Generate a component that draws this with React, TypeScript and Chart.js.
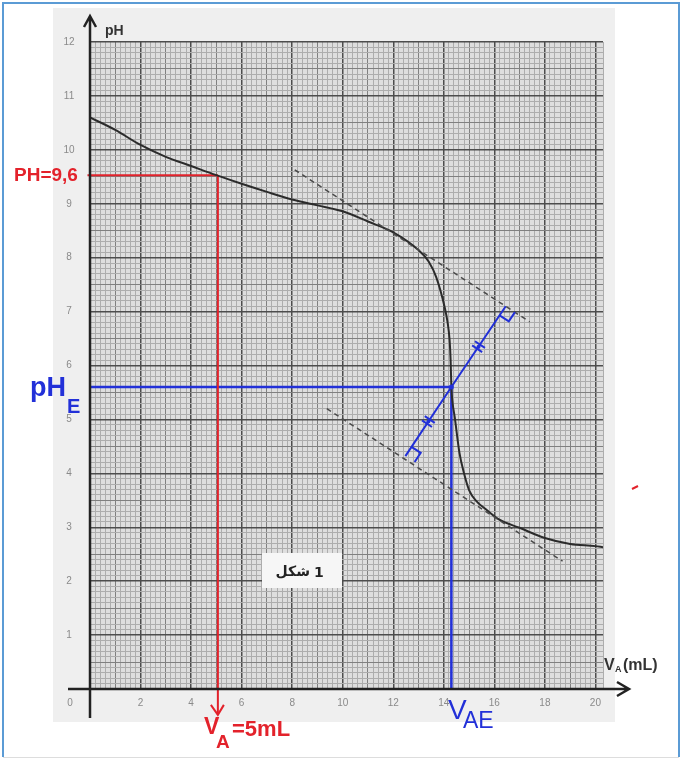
import { useEffect, useRef } from "react";
import { Chart, registerables } from "chart.js";

Chart.register(...registerables);

// Titration curve
const VOLUME_ML = [0, 1, 2, 3, 4, 5, 6, 7, 8, 9, 10, 11, 12, 13, 13.4, 13.7, 14.03, 14.15, 14.23, 14.27, 14.3, 14.35, 14.43, 14.62, 14.8, 15.0, 15.3, 15.7, 16.2, 17, 18, 19, 20, 20.3];
const PH_VALUES = [10.6, 10.37, 10.09, 9.87, 9.7, 9.53, 9.37, 9.22, 9.08, 8.97, 8.86, 8.67, 8.47, 8.14, 7.93, 7.64, 7.09, 6.8, 6.47, 6.1, 5.6, 5.3, 5.05, 4.38, 4.0, 3.69, 3.48, 3.32, 3.14, 2.99, 2.8, 2.69, 2.65, 2.63];

// Tangent lines (dashed)
const UPPER_TANGENT_X = [8.1, 17.4];
const UPPER_TANGENT_Y = [9.63, 6.81];
const LOWER_TANGENT_X = [9.37, 18.7];
const LOWER_TANGENT_Y = [5.2, 2.37];

// Perpendicular segment (blue)
const PERP_X = [12.48, 14.3, 16.45];
const PERP_Y = [4.32, 5.6, 7.1];

// Reading lines
const V_A = 5.06;
const PH_A = 9.53;
const RED_BOTTOM = -0.48;
const V_AE = 14.3;
const PH_E = 5.6;

const X_TICK_LABELS = [2, 4, 6, 8, 10, 12, 14, 16, 18, 20];
const Y_TICK_LABELS = [1, 2, 3, 4, 5, 6, 7, 8, 9, 10, 11, 12];

const RED = "#e3222b";
const BLUE = "#2230d8";
const MAJOR = "#4d4d4d";
const MID = "#808080";
const MINOR = "#adadad";

export default function App() {
  const ref = useRef<HTMLCanvasElement>(null);

  useEffect(() => {
    document.body.style.margin = "0";
    const canvas = ref.current!;
    const pts = (xs: number[], ys: number[]) => xs.map((x, i) => ({ x, y: ys[i] }));

    const paper = {
      id: "paper",
      beforeDraw(chart: any) {
        const { ctx, chartArea: a } = chart;
        ctx.save();
        ctx.fillStyle = "#ffffff";
        ctx.fillRect(0, 0, chart.width, chart.height);
        ctx.fillStyle = "#efefef";
        ctx.fillRect(53, 8, 562, 714);
        ctx.fillStyle = "#dedede";
        ctx.fillRect(a.left, a.top, a.right - a.left, a.bottom - a.top);
        ctx.restore();
      },
      afterDraw(chart: any) {
        const { ctx } = chart;
        const xs = chart.scales.x;
        const ys = chart.scales.y;
        const px = (x: number, y: number) => [xs.getPixelForValue(x), ys.getPixelForValue(y)];
        const x0 = xs.getPixelForValue(0);
        const y0 = ys.getPixelForValue(0);
        ctx.save();

        // tick labels
        ctx.fillStyle = "#8a8a8a";
        ctx.font = '10px "Liberation Sans"';
        ctx.textAlign = "center";
        ctx.textBaseline = "middle";
        X_TICK_LABELS.forEach((v) => ctx.fillText(String(v), xs.getPixelForValue(v), y0 + 14));
        ctx.fillText("0", x0 - 20, y0 + 14);
        Y_TICK_LABELS.forEach((v) => ctx.fillText(String(v), x0 - 21, ys.getPixelForValue(v)));

        // axes with arrows
        ctx.strokeStyle = "#222";
        ctx.lineWidth = 2.5;
        ctx.beginPath();
        ctx.moveTo(68, y0);
        ctx.lineTo(628, y0);
        ctx.moveTo(617, y0 - 7);
        ctx.lineTo(629, y0);
        ctx.lineTo(617, y0 + 7);
        ctx.moveTo(x0, 718);
        ctx.lineTo(x0, 16);
        ctx.moveTo(x0 - 6, 27);
        ctx.lineTo(x0, 16);
        ctx.lineTo(x0 + 6, 27);
        ctx.stroke();

        // axis titles
        ctx.fillStyle = "#333";
        ctx.textAlign = "left";
        ctx.textBaseline = "alphabetic";
        ctx.font = 'bold 14px "Liberation Sans"';
        ctx.fillText("pH", 105, 35);
        ctx.font = 'bold 16px "Liberation Sans"';
        ctx.fillText("V", 604, 670);
        ctx.font = 'bold 9px "Liberation Sans"';
        ctx.fillText("A", 615, 672);
        ctx.font = 'bold 16px "Liberation Sans"';
        ctx.fillText("(mL)", 623, 670);

        // red arrow head
        const rb = px(V_A, RED_BOTTOM);
        ctx.strokeStyle = RED;
        ctx.lineWidth = 2;
        ctx.beginPath();
        ctx.moveTo(rb[0] - 7, rb[1] - 10);
        ctx.lineTo(rb[0], rb[1]);
        ctx.lineTo(rb[0] + 6, rb[1] - 10);
        ctx.stroke();

        // right angle marks and equal marks on blue perpendicular
        const unit = (a: number[], b: number[]) => {
          const dx = b[0] - a[0], dy = b[1] - a[1];
          const l = Math.hypot(dx, dy);
          return [dx / l, dy / l];
        };
        const P0 = px(PERP_X[0], PERP_Y[0]);
        const C = px(PERP_X[1], PERP_Y[1]);
        const P1 = px(PERP_X[2], PERP_Y[2]);
        const tU = unit(px(UPPER_TANGENT_X[0], UPPER_TANGENT_Y[0]), px(UPPER_TANGENT_X[1], UPPER_TANGENT_Y[1]));
        const tL = unit(px(LOWER_TANGENT_X[0], LOWER_TANGENT_Y[0]), px(LOWER_TANGENT_X[1], LOWER_TANGENT_Y[1]));
        ctx.strokeStyle = BLUE;
        ctx.lineWidth = 2;
        const square = (P: number[], t: number[], v: number[], s: number) => {
          ctx.beginPath();
          ctx.moveTo(P[0] + t[0] * s, P[1] + t[1] * s);
          ctx.lineTo(P[0] + t[0] * s + v[0] * s, P[1] + t[1] * s + v[1] * s);
          ctx.lineTo(P[0] + v[0] * s, P[1] + v[1] * s);
          ctx.stroke();
        };
        square(P1, tU, unit(P1, C), 11);
        square(P0, tL, unit(P0, C), 11);
        const d = unit(P0, P1);
        const n = [-d[1], d[0]];
        [[P0, C], [C, P1]].forEach(([A, B]) => {
          const M = [(A[0] + B[0]) / 2, (A[1] + B[1]) / 2];
          [-2.5, 2.5].forEach((o) => {
            const c = [M[0] + d[0] * o, M[1] + d[1] * o];
            ctx.beginPath();
            ctx.moveTo(c[0] - n[0] * 6, c[1] - n[1] * 6);
            ctx.lineTo(c[0] + n[0] * 6, c[1] + n[1] * 6);
            ctx.stroke();
          });
          ctx.fillStyle = BLUE;
          ctx.beginPath();
          ctx.arc(M[0], M[1], 2, 0, Math.PI * 2);
          ctx.fill();
        });
        ctx.beginPath();
        ctx.arc(C[0], C[1], 2.5, 0, Math.PI * 2);
        ctx.fill();

        // red annotations
        ctx.fillStyle = RED;
        ctx.textBaseline = "middle";
        ctx.font = 'bold 19px "Liberation Sans"';
        ctx.fillText("PH=9,6", 14, ys.getPixelForValue(PH_A) + 1);
        ctx.textBaseline = "alphabetic";
        ctx.font = 'bold 23px "Liberation Sans"';
        ctx.fillText("V", 204, 734);
        ctx.font = 'bold 19px "Liberation Sans"';
        ctx.fillText("A", 216, 748);
        ctx.font = 'bold 22px "Liberation Sans"';
        ctx.fillText("=5mL", 232, 736);

        // blue annotations
        ctx.fillStyle = BLUE;
        ctx.font = 'bold 27px "Liberation Sans"';
        ctx.fillText("pH", 30, 396);
        ctx.font = 'bold 20px "Liberation Sans"';
        ctx.fillText("E", 67, 413);
        ctx.font = '28px "Liberation Sans"';
        ctx.fillText("V", 448, 719);
        ctx.font = '23px "Liberation Sans"';
        ctx.fillText("AE", 463, 728);

        // figure label box
        ctx.fillStyle = "#f6f6f6";
        ctx.fillRect(262, 553, 80, 35);
        ctx.fillStyle = "#222";
        ctx.textBaseline = "middle";
        ctx.font = 'bold 14px "DejaVu Sans"';
        ctx.textAlign = "right";
        ctx.fillText("شكل", 310, 572);
        ctx.textAlign = "left";
        ctx.fillText("1", 314, 573);

        // stray red mark
        ctx.strokeStyle = RED;
        ctx.lineWidth = 2;
        ctx.beginPath();
        ctx.moveTo(632, 489);
        ctx.lineTo(638, 486);
        ctx.stroke();

        // frame
        ctx.strokeStyle = "#5b9bd5";
        ctx.lineWidth = 2;
        ctx.beginPath();
        ctx.moveTo(3, 757);
        ctx.lineTo(3, 3);
        ctx.lineTo(679, 3);
        ctx.lineTo(679, 757);
        ctx.stroke();
        ctx.strokeStyle = "#dddddd";
        ctx.lineWidth = 1;
        ctx.beginPath();
        ctx.moveTo(3, 757.5);
        ctx.lineTo(679, 757.5);
        ctx.stroke();
        ctx.restore();
      },
    };

    const line = (data: any[], color: string, width: number, extra: any = {}) => ({
      data,
      showLine: true,
      borderColor: color,
      backgroundColor: color,
      borderWidth: width,
      pointRadius: 0,
      fill: false,
      ...extra,
    });

    const chart = new Chart(canvas, {
      type: "scatter",
      data: {
        datasets: [
          line(pts(UPPER_TANGENT_X, UPPER_TANGENT_Y), "#4a4a4a", 1.5, { borderDash: [5, 4] }),
          line(pts(LOWER_TANGENT_X, LOWER_TANGENT_Y), "#4a4a4a", 1.5, { borderDash: [5, 4] }),
          line(pts(VOLUME_ML, PH_VALUES), "#2b2b2b", 2, { cubicInterpolationMode: "monotone" }),
          line([{ x: -0.1, y: PH_A }, { x: V_A, y: PH_A }], RED, 2, { clip: false }),
          line([{ x: V_A, y: PH_A }, { x: V_A, y: RED_BOTTOM }], RED, 2, { clip: false }),
          line([{ x: 0, y: PH_E }, { x: V_AE, y: PH_E }], BLUE, 2.5, { clip: false }),
          line([{ x: V_AE, y: PH_E }, { x: V_AE, y: 0 }], BLUE, 2.5, { clip: false }),
          line(pts(PERP_X, PERP_Y), BLUE, 2, { clip: false }),
        ],
      },
      options: {
        responsive: false,
        animation: false,
        events: [],
        layout: { padding: { left: 90, right: 79, top: 42, bottom: 70 } },
        plugins: { legend: { display: false }, tooltip: { enabled: false } },
        scales: {
          x: {
            type: "linear",
            min: 0,
            max: 20.3,
            border: { display: false },
            ticks: { display: false, stepSize: 0.2, autoSkip: false },
            grid: {
              drawTicks: false,
              color: (c: any) => {
                const k = Math.round((c.tick?.value ?? 0) * 5);
                return k % 10 === 0 ? MAJOR : k % 5 === 0 ? MID : MINOR;
              },
              lineWidth: (c: any) => {
                const k = Math.round((c.tick?.value ?? 0) * 5);
                return k % 10 === 0 ? 1.5 : 1;
              },
            },
          },
          y: {
            type: "linear",
            min: 0,
            max: 12,
            border: { display: false },
            ticks: { display: false, stepSize: 0.1, autoSkip: false },
            grid: {
              drawTicks: false,
              color: (c: any) => {
                const k = Math.round((c.tick?.value ?? 0) * 10);
                return k % 10 === 0 ? MAJOR : k % 5 === 0 ? MID : MINOR;
              },
              lineWidth: (c: any) => {
                const k = Math.round((c.tick?.value ?? 0) * 10);
                return k % 10 === 0 ? 1.5 : 1;
              },
            },
          },
        },
      },
      plugins: [paper],
    } as any);

    return () => chart.destroy();
  }, []);

  return <canvas ref={ref} width={682} height={759} style={{ display: "block" }} />;
}
